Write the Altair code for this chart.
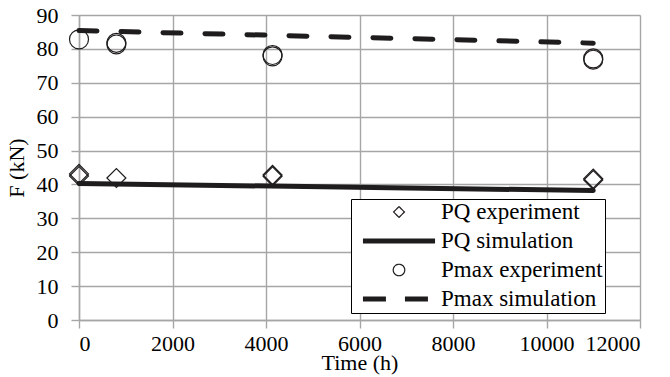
import altair as alt
import pandas as pd

# ---- data ----
series_names = ["PQ experiment", "PQ simulation", "Pmax experiment", "Pmax simulation"]

pq_exp_time = [0, 0, 800, 4140, 4140, 11000, 11000]
pq_exp_force = [43.1, 42.5, 41.9, 42.8, 42.4, 41.7, 41.3]

pmax_exp_time = [0, 800, 800, 4140, 4140, 11000, 11000]
pmax_exp_force = [82.8, 81.8, 81.3, 78.2, 77.8, 77.2, 76.8]

sim_time = [0, 11000]
pq_sim_force = [40.3, 38.2]
pmax_sim_force = [85.4, 81.7]

x_ticks = [0, 2000, 4000, 6000, 8000, 10000, 12000]
y_ticks = [0, 10, 20, 30, 40, 50, 60, 70, 80, 90]

# ---- tables ----
pq_exp_df = pd.DataFrame({"time": pq_exp_time, "force": pq_exp_force, "series": "PQ experiment"})
pmax_exp_df = pd.DataFrame({"time": pmax_exp_time, "force": pmax_exp_force, "series": "Pmax experiment"})
pq_sim_df = pd.DataFrame({"time": sim_time, "force": pq_sim_force, "series": "PQ simulation"})
pmax_sim_df = pd.DataFrame({"time": sim_time, "force": pmax_sim_force, "series": "Pmax simulation"})
legend_df = pd.DataFrame({"time": [0] * 4, "force": [0] * 4, "series": series_names})

FONT = "Liberation Serif, Times New Roman, serif"
GRID = "#a6a6a6"
INK = "#1f1c1d"
EMSP = "\u2003"

x_enc = alt.X("time:Q",
              scale=alt.Scale(domain=[0, 12000], nice=False, zero=False),
              axis=alt.Axis(values=x_ticks, title="Time (h)", format="d",
                            titlePadding=-2))
y_enc = alt.Y("force:Q",
              scale=alt.Scale(domain=[0, 90], nice=False),
              axis=alt.Axis(values=y_ticks, title="F (kN)", titlePadding=8))

# legend symbol shapes (unit paths, scaled by the legend symbol size)
small_diamond = "M-0.15,0L0,-0.15L0.15,0L0,0.15Z"
small_circle = "M0.16,0A0.16,0.16,0,1,1,-0.16,0A0.16,0.16,0,1,1,0.16,0Z"
long_stroke = "M-1,0L1,0"

legend = alt.Legend(
    title=None,
    orient="none",
    legendX=272,
    legendY=184,
    direction="vertical",
    strokeColor="black",
    fillColor="white",
    padding=2,
    clipHeight=22,
    rowPadding=6,
    symbolSize=5200,
    symbolOffset=7,
    labelOffset=3,
    labelLimit=400,
    labelExpr="datum.label + '" + EMSP + "'",
    labelFont=FONT,
    labelFontSize=23,
    labelColor="black",
)

pq_points = alt.Chart(pq_exp_df).mark_point(
    shape="diamond", filled=False, size=360, strokeWidth=1.2, color=INK, opacity=1
).encode(x=x_enc, y=y_enc)

pmax_points = alt.Chart(pmax_exp_df).mark_point(
    shape="circle", filled=False, size=360, strokeWidth=1.2, color=INK, opacity=1
).encode(x=x_enc, y=y_enc)

pq_line = alt.Chart(pq_sim_df).mark_line(
    color=INK, strokeWidth=5, strokeCap="round"
).encode(x=x_enc, y=y_enc)

pmax_line = alt.Chart(pmax_sim_df).mark_line(
    color=INK, strokeWidth=5, strokeCap="round", strokeDash=[18, 24]
).encode(x=x_enc, y=y_enc)

# legend-only layer (draws nothing in the plot: every row is filtered out)
legend_layer = alt.Chart(legend_df).transform_filter("false").mark_point(
    filled=False, color=INK, opacity=1
).encode(
    x=x_enc,
    y=y_enc,
    shape=alt.Shape("series:N",
                    scale=alt.Scale(domain=series_names,
                                    range=[small_diamond, long_stroke, small_circle, long_stroke]),
                    legend=legend),
    strokeWidth=alt.StrokeWidth("series:N",
                                scale=alt.Scale(type="ordinal", domain=series_names,
                                                range=[1.2, 5, 1.2, 5]),
                                legend=legend),
    strokeDash=alt.StrokeDash("series:N",
                              scale=alt.Scale(domain=series_names,
                                              range=[[1, 0], [1, 0], [1, 0], [23, 19]]),
                              legend=legend),
)

chart = alt.layer(pq_points, pmax_points, legend_layer, pq_line, pmax_line).properties(
    width=561,
    height=305,
    autosize=alt.AutoSizeParams(type="none"),
    padding={"left": 79, "top": 15, "right": 30, "bottom": 57},
    background="white",
).configure_view(
    strokeWidth=0
).configure_axis(
    grid=True,
    gridColor=GRID,
    gridWidth=1.4,
    domainColor=GRID,
    domainWidth=1.4,
    tickColor=GRID,
    tickWidth=1.4,
    tickSize=8,
    labelFont=FONT,
    labelFontSize=22,
    labelColor="black",
    titleFont=FONT,
    titleFontSize=22,
    titleFontWeight="normal",
    titleColor="black",
).configure_axisX(
    labelPadding=5,
).configure_axisY(
    labelPadding=13,
)

chart.save("out.html", embed_options={"renderer": "svg", "actions": False})
